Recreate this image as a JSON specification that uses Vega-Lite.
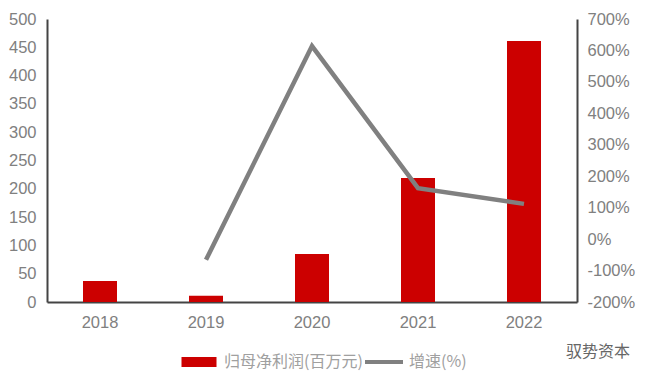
{
 "$schema":"https://vega.github.io/schema/vega-lite/v6.json",
 "width":530,"height":283,"autosize":"none",
 "padding":{"left":47,"top":19,"right":73,"bottom":79},
 "background":"#ffffff",
 "config":{"view":{"stroke":null}},
 "title":{"text":"驭势资本","orient":"bottom","anchor":"end","frame":"group","offset":10,"dx":53,"dy":-28,"fontSize":16,"font":"Noto Sans CJK SC","fontWeight":"normal","color":"#666666","baseline":"middle"},
 "data":{"values":[
  {"year":"2018","series":"归母净利润(百万元)","value":37},
  {"year":"2019","series":"归母净利润(百万元)","value":11},
  {"year":"2020","series":"归母净利润(百万元)","value":85},
  {"year":"2021","series":"归母净利润(百万元)","value":219},
  {"year":"2022","series":"归母净利润(百万元)","value":461},
  {"year":"2019","series":"增速(%)","value":-0.66},
  {"year":"2020","series":"增速(%)","value":6.14},
  {"year":"2021","series":"增速(%)","value":1.62},
  {"year":"2022","series":"增速(%)","value":1.12}
 ]},
 "encoding":{
  "x":{"field":"year","type":"ordinal","scale":{"type":"band","paddingInner":0,"paddingOuter":0},
   "axis":{"title":null,"labelAngle":0,"ticks":false,"domainColor":"#444444","domainWidth":2,"labelColor":"#808080","labelFontSize":16.5,"labelFont":"Liberation Sans","labelPadding":12,"grid":false}},
  "color":{"field":"series","type":"nominal",
   "scale":{"domain":["归母净利润(百万元)","增速(%)"],"range":["#cc0000","#808080"]},
   "legend":{"title":null,"orient":"none","legendX":144,"legendY":335,"direction":"horizontal","columns":2,"columnPadding":2,
    "labelColor":"#a0a0a0","labelFontSize":16,"labelFont":"Noto Sans CJK SC","symbolSize":1,"symbolStrokeWidth":0,"labelOffset":17,
    "encode":{"symbols":{"update":{"shape":{"signal":"datum.value=='增速(%)' ? 'M-38,-4H38V4H-38Z' : 'M-35,-10H35V10H-35Z'"},"fill":{"signal":"datum.value=='增速(%)' ? '#808080' : '#cc0000'"},"stroke":{"value":"transparent"},"size":{"value":1}}}}}}
 },
 "layer":[
  {"transform":[{"filter":"datum.series!='增速(%)'"}],
   "mark":{"type":"bar","width":34},
   "encoding":{"y":{"field":"value","type":"quantitative","scale":{"domain":[0,500]},
    "axis":{"title":null,"values":[0,50,100,150,200,250,300,350,400,450,500],"ticks":false,"grid":false,"domainColor":"#444444","domainWidth":2,"labelColor":"#808080","labelFontSize":16.5,"labelFont":"Liberation Sans","labelPadding":11}}}},
  {"transform":[{"filter":"datum.series=='增速(%)'"}],
   "mark":{"type":"line","strokeWidth":4.5},
   "encoding":{"y":{"field":"value","type":"quantitative","scale":{"domain":[-2,7]},
    "axis":{"title":null,"orient":"right","labelExpr":"replace(format(datum.value,'.0%'),'−','-')","values":[-2,-1,0,1,2,3,4,5,6,7],"ticks":false,"grid":false,"domainColor":"#444444","domainWidth":2,"labelColor":"#808080","labelFontSize":16.5,"labelFont":"Liberation Sans","labelPadding":10}}}}
 ],
 "resolve":{"scale":{"y":"independent"},"axis":{"y":"independent"}}
}
